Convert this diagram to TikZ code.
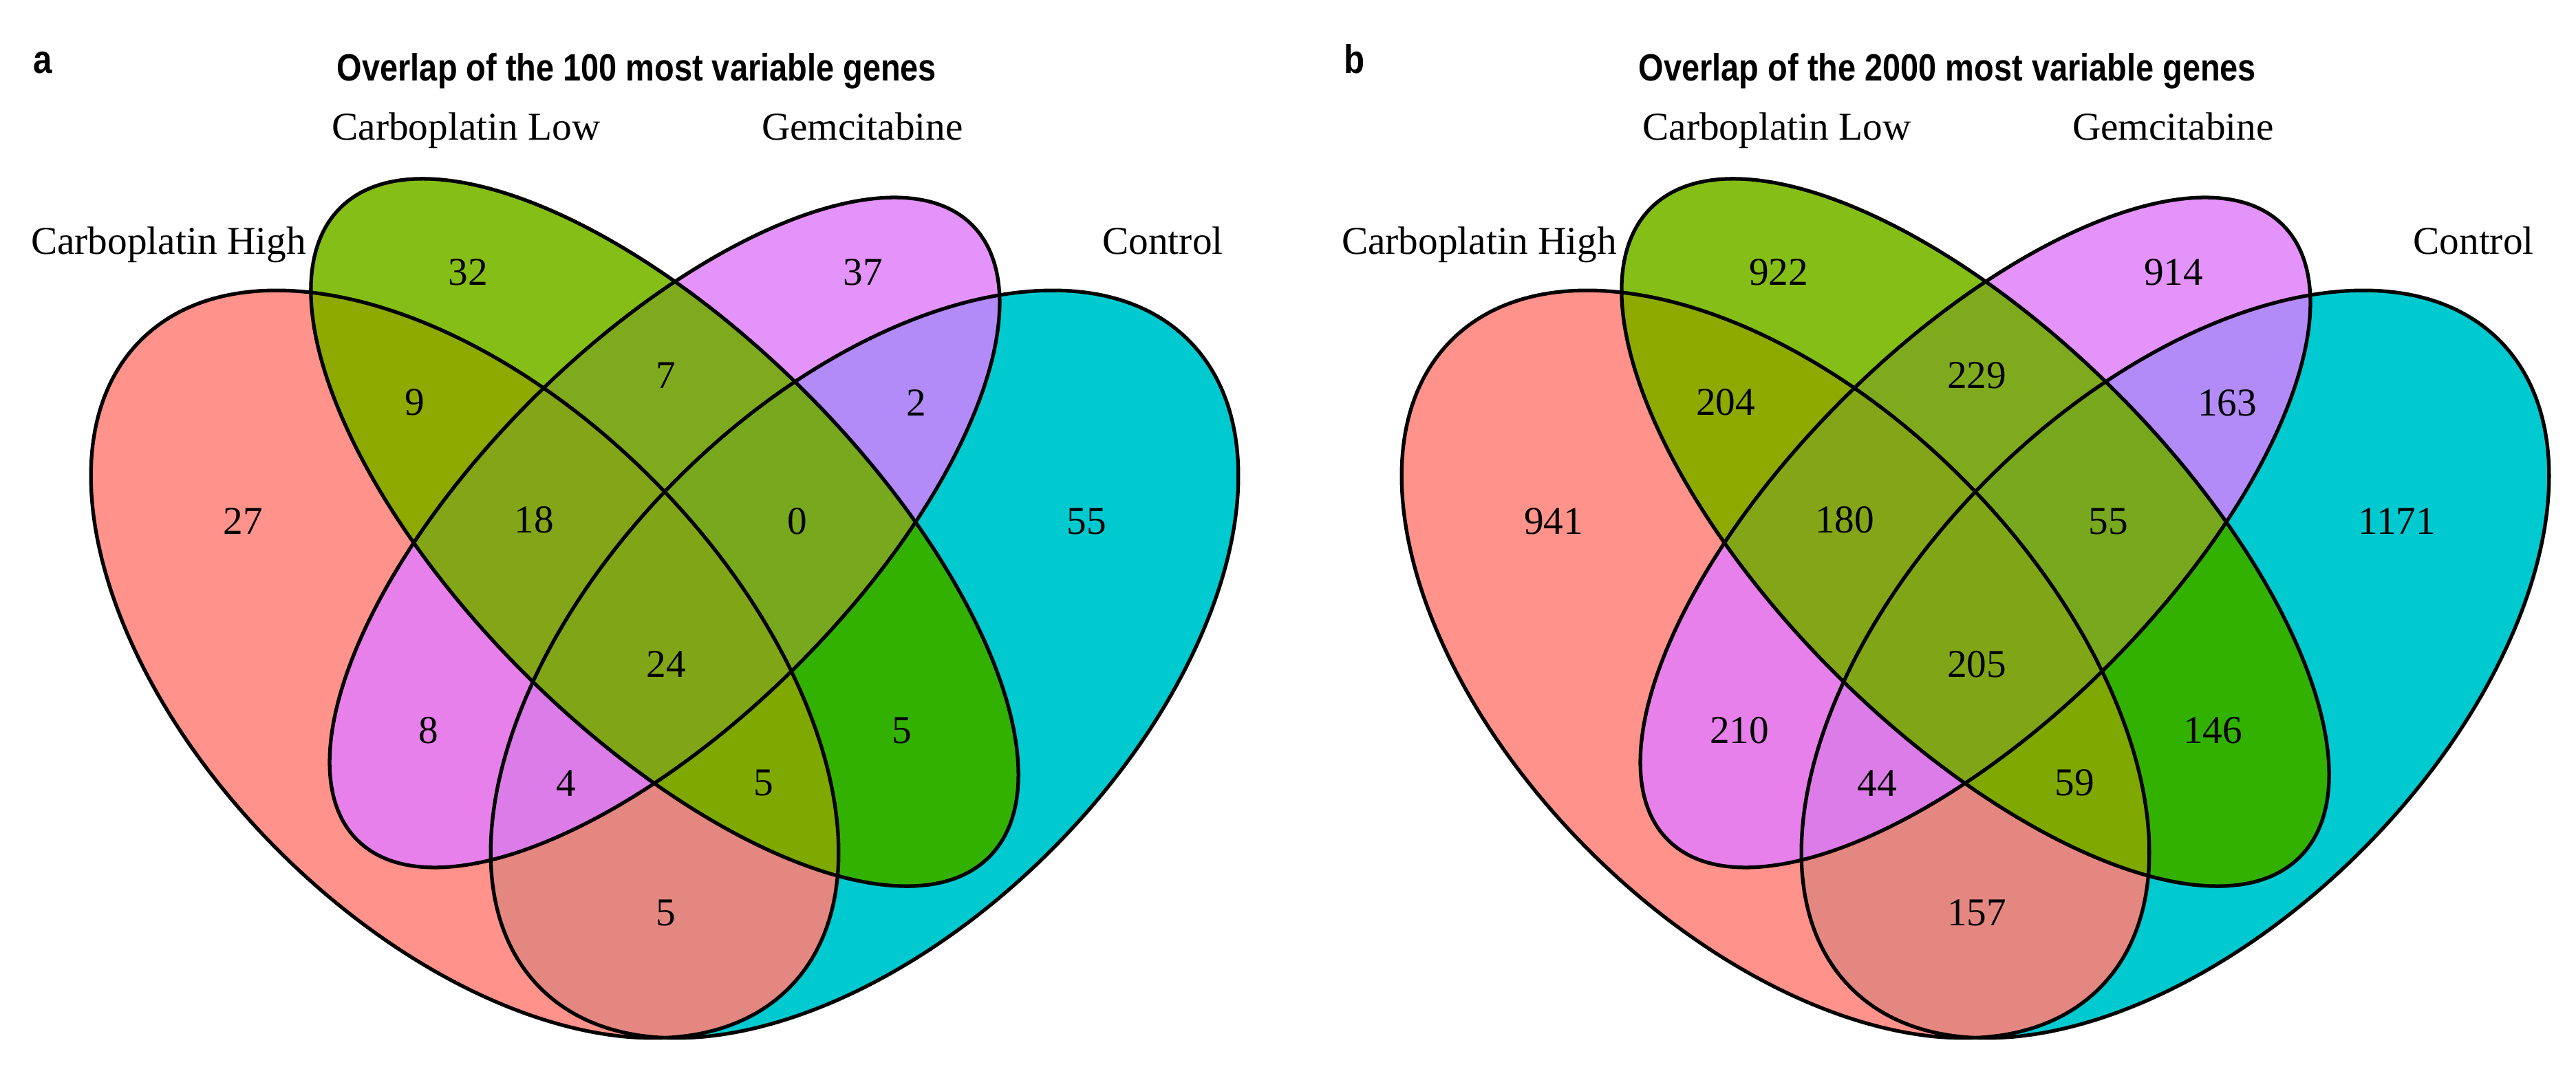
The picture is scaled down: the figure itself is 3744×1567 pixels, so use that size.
\documentclass[tikz,border=0pt]{standalone}
\usepackage{fontspec}
\setmainfont{Liberation Serif}
\newfontfamily\titlefont[FakeStretch=0.85]{Liberation Sans}
\definecolor{colH}{HTML}{FF928A}
\definecolor{colL}{HTML}{85BE17}
\definecolor{colG}{HTML}{E493FA}
\definecolor{colC}{HTML}{00CACF}
\definecolor{colHL}{HTML}{8EAA00}
\definecolor{colHG}{HTML}{E780EA}
\definecolor{colHC}{HTML}{E58781}
\definecolor{colLG}{HTML}{80AA1E}
\definecolor{colLC}{HTML}{33B100}
\definecolor{colGC}{HTML}{B38BF8}
\definecolor{colHLG}{HTML}{83A517}
\definecolor{colHLC}{HTML}{7FA800}
\definecolor{colHGC}{HTML}{DC7CE8}
\definecolor{colLGC}{HTML}{78A81E}
\definecolor{colHLGC}{HTML}{80A618}
\tikzset{
  eH/.style={rotate around={-45:(675.5,965.5)}},
  eC/.style={rotate around={45:(1256.5,965.5)}},
  eL/.style={rotate around={-45:(966,774)}},
  eG/.style={rotate around={45:(966,774)}},
  outl/.style={draw=black, line width=1.5pt},
  num/.style={inner sep=0pt, font=\fontsize{16.3}{19}\selectfont},
  setlab/.style={inner sep=0pt, anchor=base, font=\fontsize{16.3}{19}\selectfont},
  ttl/.style={inner sep=0pt, anchor=base, font=\titlefont\bfseries\fontsize{15.7}{18}\selectfont},
  plab/.style={inner sep=0pt, anchor=base west, font=\titlefont\bfseries\fontsize{16.5}{19}\selectfont},
}
\def\pH{(675.5,965.5) ellipse [x radius=666, y radius=383]}
\def\pC{(1256.5,965.5) ellipse [x radius=666, y radius=383]}
\def\pL{(966,774) ellipse [x radius=667, y radius=289]}
\def\pG{(966,774) ellipse [x radius=632, y radius=273]}
\newcommand\vennpanel{%
  \fill[colH,eH] \pH;
  \fill[colL,eL] \pL;
  \fill[colG,eG] \pG;
  \fill[colC,eC] \pC;
  \begin{scope}\clip[eH] \pH; \fill[colHL,eL] \pL; \fill[colHG,eG] \pG; \fill[colHC,eC] \pC; \end{scope}
  \begin{scope}\clip[eL] \pL; \fill[colLG,eG] \pG; \fill[colLC,eC] \pC; \end{scope}
  \begin{scope}\clip[eG] \pG; \fill[colGC,eC] \pC; \end{scope}
  \begin{scope}\clip[eH] \pH; \clip[eL] \pL; \fill[colHLG,eG] \pG; \fill[colHLC,eC] \pC; \end{scope}
  \begin{scope}\clip[eH] \pH; \clip[eG] \pG; \fill[colHGC,eC] \pC; \end{scope}
  \begin{scope}\clip[eL] \pL; \clip[eG] \pG; \fill[colLGC,eC] \pC; \end{scope}
  \begin{scope}\clip[eH] \pH; \clip[eL] \pL; \clip[eG] \pG; \fill[colHLGC,eC] \pC; \end{scope}
  \draw[outl,eH] \pH;
  \draw[outl,eL] \pL;
  \draw[outl,eG] \pG;
  \draw[outl,eC] \pC;
}
\begin{document}
\begin{tikzpicture}[x=0.01cm, y=-0.01cm]
\useasboundingbox (0,0) rectangle (3744,1567);
\fill[white] (0,0) rectangle (3744,1567);
% panel a
\vennpanel
\begin{scope}[shift={(1905,0)}]
\vennpanel
\end{scope}
% labels panel a
\node[plab] (pa) at (48,107) {a};
\node[ttl] (ta) at (925.5,118) {Overlap of the 100 most variable genes};
\node[setlab] (la1) at (245,370) {Carboplatin High};
\node[setlab] (la2) at (677.5,204) {Carboplatin Low};
\node[setlab] (la3) at (1253.5,204) {Gemcitabine};
\node[setlab] (la4) at (1690,370) {Control};
\node[num] (na1) at (353,758) {27};
\node[num] (na2) at (680,396) {32};
\node[num] (na3) at (603,585) {9};
\node[num] (na4) at (776,756) {18};
\node[num] (na5) at (623,1062) {8};
\node[num] (na6) at (823,1139) {4};
\node[num] (na7) at (1254,396) {37};
\node[num] (na8) at (968,546) {7};
\node[num] (na9) at (1332,586) {2};
\node[num] (na10) at (1159,758) {0};
\node[num] (na11) at (1579,758) {55};
\node[num] (na12) at (968,966) {24};
\node[num] (na13) at (1311,1062) {5};
\node[num] (na14) at (1110,1138) {5};
\node[num] (na15) at (968,1327) {5};
% labels panel b
\node[plab] (pb) at (1953,107) {b};
\node[ttl] (tb) at (2830.5,118) {Overlap of the 2000 most variable genes};
\node[setlab] (lb1) at (2150,370) {Carboplatin High};
\node[setlab] (lb2) at (2582.5,204) {Carboplatin Low};
\node[setlab] (lb3) at (3158.5,204) {Gemcitabine};
\node[setlab] (lb4) at (3595,370) {Control};
\node[num] (nb1) at (2258,758) {941};
\node[num] (nb2) at (2585,396) {922};
\node[num] (nb3) at (2508,585) {204};
\node[num] (nb4) at (2681,756) {180};
\node[num] (nb5) at (2528,1062) {210};
\node[num] (nb6) at (2728,1139) {44};
\node[num] (nb7) at (3159,396) {914};
\node[num] (nb8) at (2873,546) {229};
\node[num] (nb9) at (3237,586) {163};
\node[num] (nb10) at (3064,758) {55};
\node[num] (nb11) at (3484,758) {1171};
\node[num] (nb12) at (2873,966) {205};
\node[num] (nb13) at (3216,1062) {146};
\node[num] (nb14) at (3015,1138) {59};
\node[num] (nb15) at (2873,1327) {157};
\end{tikzpicture}
\end{document}
